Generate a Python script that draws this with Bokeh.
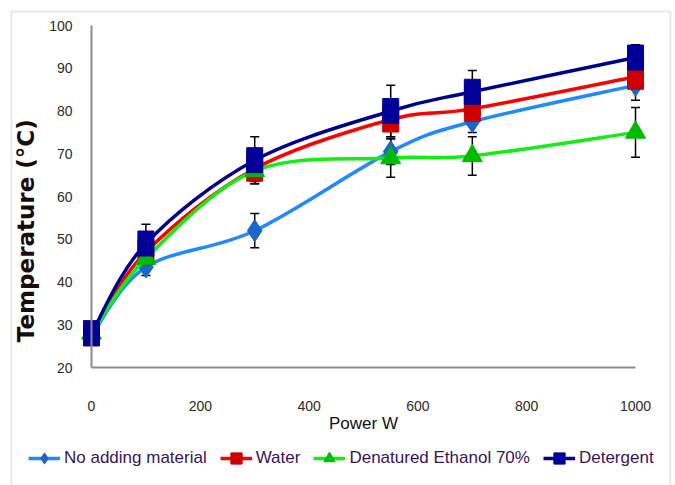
import math
from bokeh.plotting import figure
from bokeh.models import (Range1d, FixedTicker, Whisker, TeeHead, ColumnDataSource, Legend,
                          LegendItem, Label, BoxAnnotation)
from bokeh.embed import file_html
from bokeh.resources import INLINE

power = [0, 100, 300, 550, 700, 1000]
no_adding = [27.5, 43.5, 52, 70.5, 77.5, 86]
water = [28, 47, 66.5, 78, 80.5, 88]
ethanol = [28, 45.5, 66, 69, 69.5, 75]
detergent = [28, 49, 68.5, 80, 84.5, 92.5]

no_adding_err = [1, 2, 4, 3, 2.5, 3.5]
water_err = [1, 2, 3, 4, 3, 3]
ethanol_err = [1, 2, 3, 4.5, 4.5, 5.8]
detergent_err = [1, 4.5, 5.5, 6, 5, 3]

series_names = ["No adding material", "Water", "Denatured Ethanol 70%", "Detergent"]
x_ticks = [0, 200, 400, 600, 800, 1000]
y_ticks = [20, 30, 40, 50, 60, 70, 80, 90, 100]

FONT = "Liberation Sans"


def smooth(xs, ys):
    n = len(xs)
    pts = list(zip(xs, ys))
    out = dict(x0=[], y0=[], x1=[], y1=[], cx0=[], cy0=[], cx1=[], cy1=[])
    for i in range(n - 1):
        p0 = pts[i - 1] if i > 0 else pts[i]
        p1 = pts[i]
        p2 = pts[i + 1]
        p3 = pts[i + 2] if i + 2 < n else pts[i + 1]
        out["x0"].append(p1[0]); out["y0"].append(p1[1])
        out["x1"].append(p2[0]); out["y1"].append(p2[1])
        out["cx0"].append(p1[0] + (p2[0] - p0[0]) / 6)
        out["cy0"].append(p1[1] + (p2[1] - p0[1]) / 6)
        out["cx1"].append(p2[0] - (p3[0] - p1[0]) / 6)
        out["cy1"].append(p2[1] - (p3[1] - p1[1]) / 6)
    return ColumnDataSource(out)


p = figure(width=675, height=485, output_backend="svg", toolbar_location=None,
           x_range=Range1d(-167.3, 1073.5), y_range=Range1d(-7.6, 105.85),
           min_border=0)
p.outline_line_color = None
p.grid.visible = False
p.background_fill_color = "white"
p.border_fill_color = "white"

p.xaxis.ticker = FixedTicker(ticks=x_ticks)
p.yaxis.ticker = FixedTicker(ticks=y_ticks)
p.xaxis.bounds = (0, 1000)
p.yaxis.bounds = (20, 100)
p.xaxis.fixed_location = 20
p.yaxis.fixed_location = 0
for ax in (p.xaxis, p.yaxis):
    ax.axis_line_color = "#8c8c8c"
    ax.axis_line_width = 2
    ax.major_tick_line_color = None
    ax.minor_tick_line_color = None
    ax.major_label_text_font = FONT
    ax.major_label_text_font_size = "14px"
    ax.major_label_text_color = "#2e2a22"
p.xaxis.major_label_standoff = 27
p.yaxis.major_label_standoff = 13
p.xaxis.axis_label = "Power W"
p.xaxis.axis_label_text_font = FONT
p.xaxis.axis_label_text_font_size = "17px"
p.xaxis.axis_label_text_font_style = "normal"
p.xaxis.axis_label_text_color = "#111122"
p.xaxis.axis_label_standoff = 0

p.add_layout(Label(x=-121, y=52, text="Temperature (°C)", angle=math.pi / 2,
                   text_align="center", text_baseline="middle",
                   text_font="DejaVu Sans", text_font_size="23px",
                   text_font_style="bold", text_color="#1a0a0a"))

p.add_layout(BoxAnnotation(left=-147, right=1064, top=103.3, bottom=-20,
                           fill_color=None, line_color="#b4b4b4", line_width=2))

line_colors = ["#2288ff", "#ff0000", "#11ee11", "#00008f"]
marker_colors = ["#1a66cc", "#cc0000", "#00bb00", "#000099"]
markers = ["diamond", "square", "triangle", "square"]
sizes = [22, 15, 20, 15]
values = [no_adding, water, ethanol, detergent]
errors = [no_adding_err, water_err, ethanol_err, detergent_err]

items = []
for name, vals, errs, lc, mc, mk, sz in zip(series_names, values, errors, line_colors, marker_colors, markers, sizes):
    src = ColumnDataSource(dict(x=power, y=vals,
                                lo=[v - e for v, e in zip(vals, errs)],
                                hi=[v + e for v, e in zip(vals, errs)]))
    w = Whisker(source=src, base="x", lower="lo", upper="hi", level="underlay",
                line_color="black", line_width=1.5,
                upper_head=TeeHead(size=9, line_color="black", line_width=1.5),
                lower_head=TeeHead(size=9, line_color="black", line_width=1.5))
    p.add_layout(w)
    r_line = p.bezier(x0="x0", y0="y0", x1="x1", y1="y1", cx0="cx0", cy0="cy0",
                      cx1="cx1", cy1="cy1", source=smooth(power, vals),
                      line_color=lc, line_width=3.5)
    r_mk = p.scatter("x", "y", source=src, marker=mk, size=sz,
                     fill_color=mc, line_color=mc, line_width=1)
    if mk == "square":
        p.rect("x", "y", width=16, height=25, width_units="screen", height_units="screen",
               source=src, fill_color=mc, line_color=mc, line_width=1)
    items.append(LegendItem(label=name, renderers=[r_line, r_mk]))

legend = Legend(items=items, orientation="horizontal", location=(28, 13),
                glyph_width=32, glyph_height=28, label_standoff=4, spacing=13,
                padding=0, margin=0, border_line_color=None, background_fill_alpha=0,
                label_text_font=FONT, label_text_font_size="17px",
                label_text_color="#3a1458")
p.add_layout(legend, "center")

open("out.html", "w").write(file_html(p, INLINE))
